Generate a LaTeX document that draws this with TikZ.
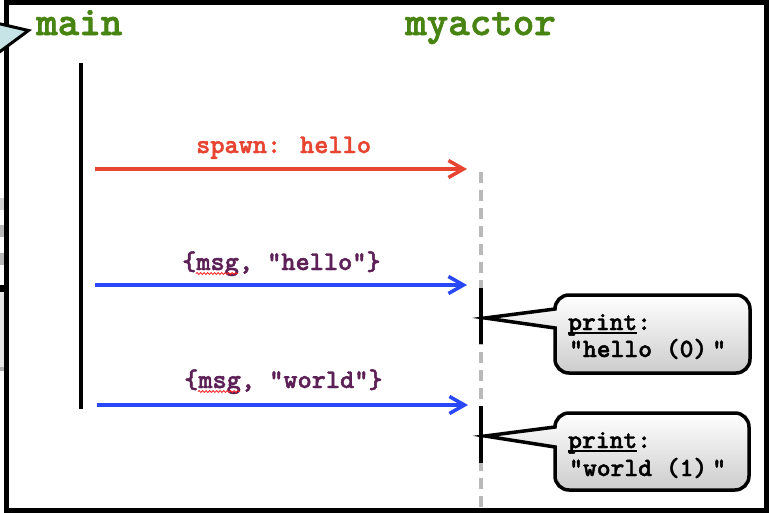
\documentclass[tikz,border=0pt]{standalone}
\usepackage{fontspec}
\newfontfamily\cour{lmmonolt10-bold.otf}[FakeBold=1.6]
\usetikzlibrary{arrows.meta,decorations.pathmorphing}
\definecolor{titlegreen}{RGB}{72,132,18}
\definecolor{spawnred}{RGB}{232,68,50}
\definecolor{msgblue}{RGB}{40,72,250}
\definecolor{labelpurple}{RGB}{92,32,86}
\definecolor{dashgrey}{RGB}{185,185,185}
\definecolor{pointercyan}{RGB}{198,228,230}
\tikzset{
  titletext/.style={font=\cour\fontsize{41}{44}\selectfont, text=titlegreen, inner sep=0pt, anchor=base west},
  spawnlabel/.style={font=\cour\fontsize{27}{30}\selectfont, text=spawnred, inner sep=0pt, anchor=base west},
  msglabel/.style={font=\cour\fontsize{27}{30}\selectfont, text=labelpurple, inner sep=0pt, anchor=base west},
  calltext/.style={font=\cour\fontsize{26.3}{30}\selectfont, text=black, inner sep=0pt, anchor=base west},
  lifeline/.style={line width=3.5pt, black},
  actbar/.style={line width=3.5pt, black},
  dashline/.style={line width=4pt, dashgrey, dash pattern=on 11pt off 7pt},
  spawnarrow/.style={line width=3.5pt, spawnred, -{Straight Barb[length=15pt,width=17pt,line width=3.5pt]}},
  msgarrow/.style={line width=3.5pt, msgblue, -{Straight Barb[length=15pt,width=17pt,line width=3.5pt]}},
  callout/.style={line width=3.5pt, top color=white, bottom color=gray!40, draw=black},
  spell/.style={red!85, line width=0.8pt, decorate, decoration={snake, amplitude=1pt, segment length=3.5pt}},
}
\begin{document}
\begin{tikzpicture}[x=1pt,y=-1pt]
\useasboundingbox (0,0) rectangle (769,512);
\fill[white] (0,0) rectangle (769,512);
% background artefacts left of the frame
\fill[gray!35] (0,198) rectangle (4,210);
\fill[gray!55] (0,225) rectangle (4,237);
\fill[gray!55] (0,253) rectangle (4,265);
\fill[black] (0,285) rectangle (8,292);
\fill[gray!20] (0,292) rectangle (4,367);
\fill[gray!60] (0,367) rectangle (4,371);
% frame
\draw[line width=5pt] (6.5,2.5) rectangle (766.5,510.5);
% pointer from outside
\filldraw[fill=pointercyan, draw=black, line width=3pt, line join=miter] (-6,22.5) -- (28.5,30.5) -- (-6,56);
% titles
\node[titletext] (main) at (36,35) {main};
\node[titletext] (myactor) at (405,35) {myactor};
% lifelines
\coordinate (mtop) at (81,63);
\coordinate (mbot) at (81,409);
\draw[lifeline] (mtop) -- (mbot);
\coordinate (atop) at (481,172);
\coordinate (abot) at (481,512);
\draw[dashline] (atop) -- (abot);
\coordinate (b1t) at (481,288);
\coordinate (b1b) at (481,344);
\coordinate (b2t) at (481,406);
\coordinate (b2b) at (481,463);
\draw[actbar] (b1t) -- (b1b);
\draw[actbar] (b2t) -- (b2b);
% messages
\coordinate (s0) at (95,169);
\coordinate (s1) at (467,169);
\draw[spawnarrow] (s0) -- (s1);
\node[spawnlabel] (spawnlbl) at (196,153) {spawn: hello};
\coordinate (h0) at (95,285);
\coordinate (h1) at (467,285);
\draw[msgarrow] (h0) -- (h1);
\node[msglabel] (hellolbl) at (182,270) {\{msg, "hello"\}};
\draw[spell] (196,273.5) -- (238,273.5);
\coordinate (w0) at (97,405);
\coordinate (w1) at (468,405);
\draw[msgarrow] (w0) -- (w1);
\node[msglabel] (worldlbl) at (184,388) {\{msg, "world"\}};
\draw[spell] (198,391.5) -- (240,391.5);
% callout 1
\draw[callout] (555,328) [rounded corners=14pt] -- (555,373) -- (750,373) -- (750,295) -- (555,295) [sharp corners] -- (555,309) -- (485,318) -- cycle;
\node[calltext] (p1) at (568,330) {print:};
\draw[line width=1.6pt] ([yshift=-3pt]p1.base west) -- ++(69,0);
\node[calltext] (t1) at (569,357) {"hello (0)\kern5pt"};
% callout 2
\draw[callout] (555,447) [rounded corners=14pt] -- (555,490) -- (749,490) -- (749,413) -- (555,413) [sharp corners] -- (555,427) -- (485,436) -- cycle;
\node[calltext] (p2) at (568,448) {print:};
\draw[line width=1.6pt] ([yshift=-3pt]p2.base west) -- ++(69,0);
\node[calltext] (t2) at (569,476) {"world (1)\kern5pt"};
\end{tikzpicture}
\end{document}
